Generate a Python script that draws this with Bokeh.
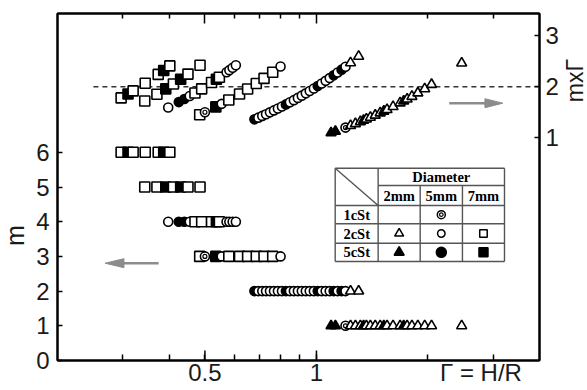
import math
import pandas as pd
from bokeh.plotting import figure
from bokeh.layouts import row
from bokeh.models import (Range1d, LinearAxis, LogAxis, FixedTicker, LinearScale,
                          ColumnDataSource)
from bokeh.core.properties import value, field
from bokeh.embed import file_html
from bokeh.resources import INLINE

# ---------------- data: aspect ratio G = H/R at which mode m was observed ----------------
# 7 mm, 2 cSt (open squares)
SQ_OPEN = {6: [0.297, 0.320, 0.345, 0.374, 0.402],
           5: [0.344, 0.371, 0.411, 0.450, 0.485],
           4: [0.470, 0.490, 0.521, 0.547],
           3: [0.484, 0.580, 0.620, 0.652, 0.688, 0.722, 0.762]}
# 7 mm, 5 cSt (filled squares)
SQ_FILL = {6: [0.310, 0.387], 5: [0.392, 0.430], 4: [0.537], 3: [0.535]}
# 5 mm, 2 cSt (open circles)
CIR_OPEN = {4: [0.398, 0.455, 0.572, 0.582, 0.594, 0.606],
            3: [0.555, 0.800],
            2: [0.697, 0.714, 0.731, 0.749, 0.768, 0.787, 0.807, 0.848, 0.869, 0.891,
                0.913, 0.936, 0.959, 0.984, 1.033, 1.059, 1.086, 1.141, 1.198]}
# 5 mm, 5 cSt (filled circles)
CIR_FILL = {4: [0.425, 0.440], 2: [0.680, 0.827, 1.008, 1.113, 1.169]}
# 5 mm, 1 cSt (double circles)
DOT = {3: [0.500], 1: [1.198]}
# 2 mm, 2 cSt (open triangles)
TRI_OPEN = {2: [1.236, 1.300],
            1: [1.236, 1.274, 1.314, 1.364, 1.398, 1.441, 1.486, 1.551, 1.610, 1.682,
                1.757, 1.810, 1.878, 1.960, 2.045, 2.466]}
# 2 mm, 5 cSt (filled triangles)
TRI_FILL = {1: [1.095, 1.125, 1.340, 1.520, 1.720]}

X_MAJOR = [0.5, 1]
X_MINOR = [0.3, 0.4, 0.6, 0.7, 0.8, 0.9, 2, 3]
M_TICKS = [0, 1, 2, 3, 4, 5, 6]
MG_TICKS = [1, 2, 3]
MG_REF = 2.0
X_TITLE, X_TITLE_AT = "Γ = H/R", 2.78
M_TITLE = "m"
MG_TITLE = "mxΓ"
TABLE_HEAD = "Diameter"
TABLE_COLS = ["2mm", "5mm", "7mm"]
TABLE_ROWS = ["1cSt", "2cSt", "5cSt"]

# ---------------- style ----------------
STYLE = {
    "sq_open": ("square", "white", 10),
    "sq_fill": ("square", "black", 10),
    "cir_open": ("circle", "white", 9),
    "cir_fill": ("circle", "black", 9),
    "dot": ("circle", "white", 9),
    "tri_open": ("triangle", "white", 10),
    "tri_fill": ("triangle", "black", 10),
}
SERIES = {"sq_open": SQ_OPEN, "sq_fill": SQ_FILL, "cir_open": CIR_OPEN,
          "cir_fill": CIR_FILL, "dot": DOT, "tri_open": TRI_OPEN, "tri_fill": TRI_FILL}

rows = []
for kind, d in SERIES.items():
    for m, gs in d.items():
        for g in gs:
            mk, fc, sz = STYLE[kind]
            rows.append(dict(m=m, g=g, mg=m * g, kind=kind, marker=mk, fill=fc, size=sz))
df = pd.DataFrame(rows).sort_values(["m", "g"]).reset_index(drop=True)
src = ColumnDataSource(df)
dots = ColumnDataSource(df[df.kind == "dot"])

SANS = "Liberation Sans"
SERIF = "Liberation Serif"
INK = "#1a1a1a"
W_LEFT, W_RIGHT, H = 33, 26, 390
W_MAIN = 587 - W_LEFT - W_RIGHT
FRAME_TOP, FRAME_BOTTOM = 13, 360

p = figure(width=W_MAIN, height=H, x_axis_type="log", x_range=Range1d(0.2, 4),
           y_range=Range1d(0, 10), output_backend="svg", toolbar_location=None,
           min_border_left=22, min_border_right=20, min_border_top=FRAME_TOP,
           min_border_bottom=H - FRAME_BOTTOM)
# pixel helper ranges (page pixels of the plot box: x 55..541, y 13..360 from top)
p.extra_y_ranges = {"mg": Range1d(-3.382, 3.442), "py": Range1d(FRAME_BOTTOM, FRAME_TOP)}
p.extra_x_ranges = {"px": Range1d(55, 541)}
p.extra_x_scales = {"px": LinearScale()}
p.xgrid.visible = False
p.ygrid.visible = False
p.outline_line_color = "black"
p.outline_line_width = 2
p.background_fill_color = "white"
p.border_fill_color = "white"


def style_axis(ax, tick_in=5, minor_in=4, standoff=6, labels=True):
    ax.axis_line_color = "black"
    ax.axis_line_width = 2
    ax.major_tick_in = tick_in
    ax.major_tick_out = 0
    ax.minor_tick_in = minor_in
    ax.minor_tick_out = 0
    ax.major_tick_line_width = 1.5
    ax.minor_tick_line_width = 1.5
    ax.major_tick_line_color = "black"
    ax.minor_tick_line_color = "black"
    ax.major_label_standoff = standoff
    ax.major_label_text_font = SANS
    if labels:
        ax.major_label_text_font_size = "24px"
        ax.major_label_text_color = INK
    else:
        ax.major_label_text_font_size = "0px"
        ax.major_label_text_color = None


# bottom axis: tick labels 0.5, 1 and the axis title on the same line
bx = p.xaxis[0]
bx.ticker = FixedTicker(ticks=X_MAJOR + [X_TITLE_AT], minor_ticks=X_MINOR + X_MAJOR)
bx.major_label_overrides = {0.5: "0.5", 1: "1", X_TITLE_AT: X_TITLE}
style_axis(bx, tick_in=0, minor_in=6, standoff=-2)
bx.major_tick_line_color = None

tx = LogAxis(ticker=FixedTicker(ticks=X_MAJOR, minor_ticks=X_MINOR))
style_axis(tx, tick_in=10, minor_in=5, standoff=0, labels=False)
p.add_layout(tx, "above")

ly = p.yaxis[0]
ly.ticker = FixedTicker(ticks=M_TICKS, minor_ticks=[])
style_axis(ly, tick_in=5, standoff=8)

ry = LinearAxis(y_range_name="mg", ticker=FixedTicker(ticks=MG_TICKS, minor_ticks=[]))
style_axis(ry, tick_in=5, standoff=6)
p.add_layout(ry, "right")

# longer inward major ticks of the bottom axis at 0.5 and 1
p.segment(x0=X_MAJOR, x1=X_MAJOR, y0=[0, 0], y1=[10 * 10 / 347] * 2,
          line_color="black", line_width=1.5)

# reference line m*G = 2
p.line(x=[0.25, 4], y=[MG_REF, MG_REF], y_range_name="mg", line_color="#333333",
       line_width=1.5, line_dash="5 4")

# data: m (left axis) and m*G (right axis)
for yname, yrange in (("m", "default"), ("mg", "mg")):
    p.scatter(x="g", y=yname, source=src, y_range_name=yrange, marker=field("marker"),
              size="size", fill_color="fill", line_color="black", line_width=1.6)
    p.scatter(x="g", y=yname, source=dots, y_range_name=yrange, marker="circle",
              size=4, fill_color=None, line_color="black", line_width=1.2)

# arrows (pixel coordinates)
ARROW_C = "#8c8c8c"
p.segment(x0=[121, 450], y0=[262.7, 102.7], x1=[157, 487], y1=[262.7, 102.7],
          x_range_name="px", y_range_name="py", line_color=ARROW_C, line_width=2.5)
p.patches(xs=[[103, 122, 122], [504, 486, 486]],
          ys=[[262.7, 258.2, 267.2], [102.7, 98.2, 107.2]],
          x_range_name="px", y_range_name="py", fill_color=ARROW_C, line_color=ARROW_C)

# legend table
TX = [335, 378.3, 420.7, 463.3, 505.7]
TY = [167.7, 185, 205, 223.3, 242.7, 261]
sx0, sy0, sx1, sy1 = [], [], [], []
for i, y in enumerate(TY):
    sx0.append(TX[1] if i == 1 else TX[0]); sx1.append(TX[-1]); sy0.append(y); sy1.append(y)
for i, x in enumerate(TX):
    sx0.append(x); sx1.append(x); sy1.append(TY[-1])
    sy0.append(TY[1] if i in (2, 3) else TY[0])
sx0.append(TX[0]); sy0.append(TY[0]); sx1.append(TX[1]); sy1.append(TY[2])
p.segment(x0=sx0, y0=sy0, x1=sx1, y1=sy1, x_range_name="px", y_range_name="py",
          line_color="#555555", line_width=1.4)
cx = [(TX[i] + TX[i + 1]) / 2 for i in range(1, 4)]
cy = [(TY[i] + TY[i + 1]) / 2 for i in range(2, 5)]
txt_x = [(TX[1] + TX[4]) / 2] + cx + [(TX[0] + TX[1]) / 2] * 3
txt_y = [(TY[0] + TY[1]) / 2 + 0.5] + [(TY[1] + TY[2]) / 2 + 0.5] * 3 + cy
p.text(x=txt_x, y=txt_y, text=[TABLE_HEAD] + TABLE_COLS + TABLE_ROWS,
       x_range_name="px", y_range_name="py", text_font=value(SERIF),
       text_font_style="bold", text_font_size="14.5px", text_align="center",
       text_baseline="middle", text_color="black")
lg = pd.DataFrame(dict(
    x=[cx[1], cx[0], cx[1], cx[2], cx[0], cx[1], cx[2]],
    y=[cy[0], cy[1], cy[1], cy[1], cy[2], cy[2], cy[2]],
    marker=["circle", "triangle", "circle", "square", "triangle", "circle", "square"],
    fill=["white", "white", "white", "white", "black", "black", "black"],
    size=[8, 9, 7.5, 7.5, 10, 10, 9]))
p.scatter(x="x", y="y", source=ColumnDataSource(lg), x_range_name="px", y_range_name="py",
          marker=field("marker"), size="size", fill_color="fill", line_color="black",
          line_width=1.5)
p.scatter(x=[cx[1]], y=[cy[0]], x_range_name="px", y_range_name="py", marker="circle",
          size=3.5, fill_color=None, line_color="black", line_width=1.2)


# side strips carrying the rotated axis titles; their frames line up with the plot box
def strip(width, text, x, y, fs):
    s = figure(width=width, height=H, x_range=Range1d(0, width),
               y_range=Range1d(FRAME_BOTTOM, FRAME_TOP),
               output_backend="svg", toolbar_location=None, min_border=0,
               min_border_top=FRAME_TOP, min_border_bottom=H - FRAME_BOTTOM,
               x_axis_location=None, y_axis_location=None)
    s.xgrid.visible = False
    s.ygrid.visible = False
    s.outline_line_color = None
    s.background_fill_color = "white"
    s.border_fill_color = "white"
    s.text(x=[x], y=[y], text=[text], angle=math.pi / 2, text_font=value(SANS),
           text_font_size=fs, text_align="center", text_baseline="middle",
           text_color=INK)
    return s


left = strip(W_LEFT, M_TITLE, 14.5, 235, "25px")
right = strip(W_RIGHT, MG_TITLE, 13, 80, "23px")

layout = row(left, p, right, spacing=0)
open("out.html", "w").write(file_html(layout, INLINE))
